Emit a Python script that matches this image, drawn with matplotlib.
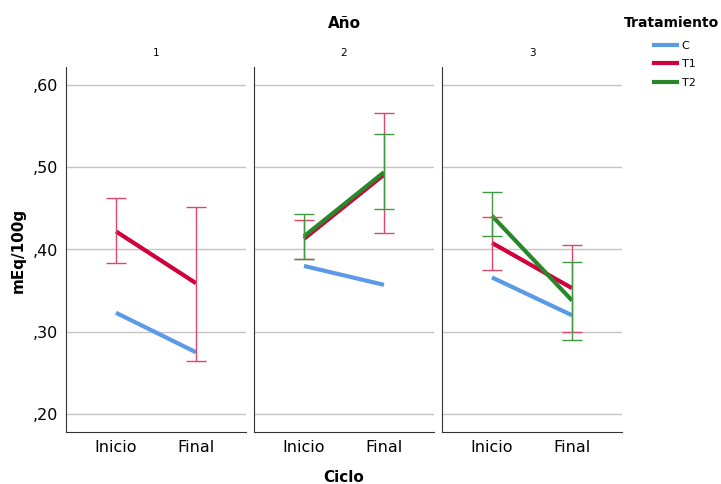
import numpy as np
import matplotlib.pyplot as plt
from matplotlib.lines import Line2D

ciclo = ['Inicio', 'Final']
anios = ['1', '2', '3']
tratamientos = ['C', 'T1', 'T2']
colores = {'C': '#5b9ae6', 'T1': '#d1003a', 'T2': '#2a862a'}
colores_err = {'T1': '#e0456a', 'T2': '#3f9a3f'}

# medias por año y tratamiento (Inicio, Final)
medias = {
    '1': {'C': [0.323, 0.275], 'T1': [0.422, 0.359]},
    '2': {'C': [0.380, 0.357], 'T1': [0.413, 0.491], 'T2': [0.416, 0.494]},
    '3': {'C': [0.366, 0.320], 'T1': [0.408, 0.353], 'T2': [0.441, 0.338]},
}
# limites de las barras de error (inferior, superior)
err_inf = {
    '1': {'T1': [0.383, 0.264]},
    '2': {'T1': [0.389, 0.420], 'T2': [0.388, 0.449]},
    '3': {'T1': [0.375, 0.300], 'T2': [0.416, 0.290]},
}
err_sup = {
    '1': {'T1': [0.463, 0.452]},
    '2': {'T1': [0.436, 0.566], 'T2': [0.443, 0.541]},
    '3': {'T1': [0.440, 0.405], 'T2': [0.470, 0.385]},
}

fig = plt.figure(figsize=(7.21, 4.84), dpi=100)
W, H = 721, 484
lefts = [66, 254, 442]
pw = 180
top, bottom = 67, 432

x = np.arange(len(ciclo))
for i, a in enumerate(anios):
    ax = fig.add_axes([lefts[i] / W, 1 - bottom / H, pw / W, (bottom - top) / H])
    ax.set_xlim(-0.625, 1.625)
    ax.set_ylim(0.178, 0.622)
    ax.set_yticks([0.2, 0.3, 0.4, 0.5, 0.6])
    ax.yaxis.grid(True, color='#c4c4c4', lw=1)
    ax.set_axisbelow(True)
    for s in ['top', 'right']:
        ax.spines[s].set_visible(False)
    ax.spines['left'].set_color('#333333')
    ax.spines['bottom'].set_color('#333333')
    ax.tick_params(length=0, labelsize=11.5, pad=6)
    ax.set_xticks(x)
    ax.set_xticklabels(ciclo)
    if i == 0:
        ax.set_yticklabels([',20', ',30', ',40', ',50', ',60'])
    else:
        ax.set_yticklabels([])
    ax.set_title(a, fontsize=7.5, pad=8)
    for t in tratamientos:
        if t not in medias[a]:
            continue
        ax.plot(x, medias[a][t], color=colores[t], lw=3, solid_capstyle='butt', zorder=3)
    for t in ['T1', 'T2']:
        if t not in err_inf[a]:
            continue
        lo = np.array(err_inf[a][t])
        hi = np.array(err_sup[a][t])
        ax.vlines(x, lo, hi, color=colores_err[t], lw=1, zorder=4)
        ax.hlines(np.concatenate([lo, hi]), np.concatenate([x, x]) - 0.12,
                  np.concatenate([x, x]) + 0.12, color=colores_err[t], lw=1, zorder=4)

fig.text(344 / W, 1 - 23 / H, 'Año', ha='center', va='center', fontsize=11, fontweight='bold')
fig.text(344 / W, 1 - 477 / H, 'Ciclo', ha='center', va='center', fontsize=11, fontweight='bold')
fig.text(18 / W, 1 - 250 / H, 'mEq/100g', ha='center', va='center', rotation=90,
         fontsize=11, fontweight='bold')
fig.text(719 / W, 1 - 23 / H, 'Tratamiento', ha='right', va='center',
         fontsize=10, fontweight='bold')

handles = [Line2D([], [], color=colores[t], lw=3) for t in tratamientos]
leg = fig.legend(handles, tratamientos, loc='upper left',
                 bbox_to_anchor=(654 / W, 1 - 41 / H), frameon=False, fontsize=8,
                 handlelength=2.1, handletextpad=0.4, labelspacing=0.75,
                 borderpad=0, borderaxespad=0)

fig.savefig('out.png', dpi=100)
